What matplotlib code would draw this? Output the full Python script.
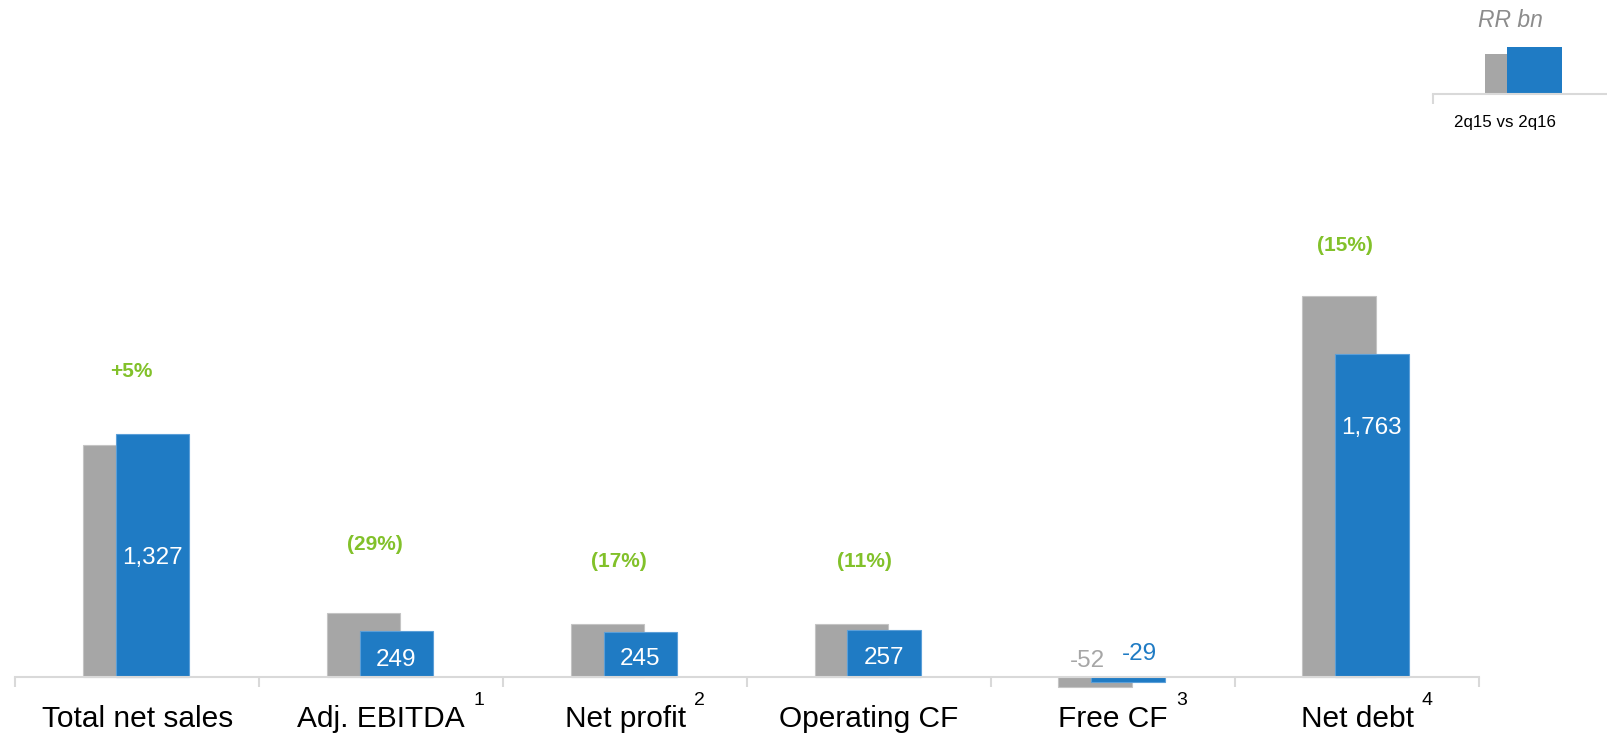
import matplotlib
matplotlib.use("Agg")
import matplotlib.pyplot as plt
import numpy as np

plt.rcParams['font.family'] = ['Liberation Sans', 'DejaVu Sans']

# ---- data ----
categories = ["Total net sales", "Adj. EBITDA", "Net profit", "Operating CF", "Free CF", "Net debt"]
footnotes = ["", "1", "2", "", "3", "4"]
values_2q15 = [1265, 349, 292, 288, -52, 2080]
values_2q16 = [1327, 249, 245, 257, -29, 1763]
value_labels = ["1,327", "249", "245", "257", "-29", "1,763"]
prev_labels = ["", "", "", "", "-52", ""]
changes = ["+5%", "(29%)", "(17%)", "(11%)", "", "(15%)"]
legend_text = "2q15 vs 2q16"
unit_text = "RR bn"

# ---- style / layout ----
GRAY = "#A6A6A6"
BLUE = "#1F7BC4"
GREEN = "#82C12A"
AXIS = "#D9D9D9"
W = 1607
H = 733

bar_w = 0.30
off_gray = -0.074
off_blue = 0.061
val_label_y = [651, 93, 100, 106, 127, 1358]
prev_label_y = [0, 0, 0, 0, 90, 0]
pct_y = [1666, 726, 630, 630, 0, 2359]
pct_dx = [-0.024, -0.028, -0.026, -0.02, 0, -0.048]

fig = plt.figure(figsize=(W / 100, H / 100), dpi=100)
ax = fig.add_axes([15.4 / W, (H - 695.3) / H, 1463.6 / W, 476 / H])
ax.set_xlim(-0.5, 5.5)
ax.set_ylim(-100, 2500)

x = np.arange(len(categories))
ax.bar(x + off_gray, values_2q15, width=bar_w, color=GRAY, edgecolor="#C4C4C4", linewidth=0.8, zorder=2)
ax.bar(x + off_blue, values_2q16, width=bar_w, color=BLUE, edgecolor="#5B9FD8", linewidth=0.8, zorder=3)

for s in ["top", "right", "left"]:
    ax.spines[s].set_visible(False)
ax.spines["bottom"].set_position(("data", 0))
ax.spines["bottom"].set_color(AXIS)
ax.spines["bottom"].set_linewidth(1.5)
ax.spines["bottom"].set_zorder(4)
ax.set_yticks([])
ax.set_xticks([])
ax.set_xticks(np.arange(-0.5, 6.0, 1.0), minor=True)
ax.tick_params(axis="x", which="minor", length=7.2, width=1.5, color=AXIS, labelbottom=False)
ax.patch.set_alpha(0)

# value labels
for i in range(len(categories)):
    if i == 4:
        ax.text(i + off_blue + 0.045, val_label_y[i], value_labels[i], color=BLUE,
                fontsize=17.5, ha="center", va="center", zorder=5)
        ax.text(i + off_gray - 0.03, prev_label_y[i], prev_labels[i], color=GRAY,
                fontsize=17.5, ha="center", va="center", zorder=5)
    else:
        ax.text(i + off_blue, val_label_y[i], value_labels[i], color="white",
                fontsize=17.5, ha="center", va="center", zorder=5)
    if changes[i]:
        ax.text(i + pct_dx[i], pct_y[i], changes[i], color=GREEN, fontsize=15,
                fontweight="bold", ha="center", va="center", zorder=5)

# category labels with superscripts
label_y = -(719 - 677) / 0.1831
sup_y = -(701 - 677) / 0.1831
fig.canvas.draw()
renderer = fig.canvas.get_renderer()
for i, cat in enumerate(categories):
    t = ax.text(i, label_y, cat, fontsize=21.5, ha="center", va="center",
                color="black", clip_on=False)
    if footnotes[i]:
        bb = t.get_window_extent(renderer=renderer)
        xr_disp = bb.x1 + 8
        xr_data = ax.transData.inverted().transform((xr_disp, 0))[0]
        ax.text(xr_data, sup_y, footnotes[i], fontsize=14, ha="left", va="center",
                color="black", clip_on=False)

# legend glyph (top right)
lax = fig.add_axes([1433 / W, (H - 94) / H, (W - 1433) / W, 54 / H])
lax.set_xlim(0, W - 1433)
lax.set_ylim(0, 1)
legend_heights = [0.741, 0.870]
lax.bar([79, 101.5], legend_heights, width=55, color=[GRAY, BLUE], zorder=2)
for s in ["top", "right", "left"]:
    lax.spines[s].set_visible(False)
lax.spines["bottom"].set_color(AXIS)
lax.spines["bottom"].set_linewidth(1.5)
lax.set_xticks([0])
lax.set_xticklabels([])
lax.tick_params(axis="x", length=7.2, width=1.5, color=AXIS)
lax.set_yticks([])
lax.patch.set_alpha(0)

fig.text(1510 / W, 1 - 20.5 / H, unit_text, fontsize=16.5, style="italic",
         color="#8C8C8C", ha="center", va="center")
fig.text(1505 / W, 1 - 123 / H, legend_text, fontsize=12.2, color="black",
         ha="center", va="center")

fig.savefig("out.png", dpi=100)
